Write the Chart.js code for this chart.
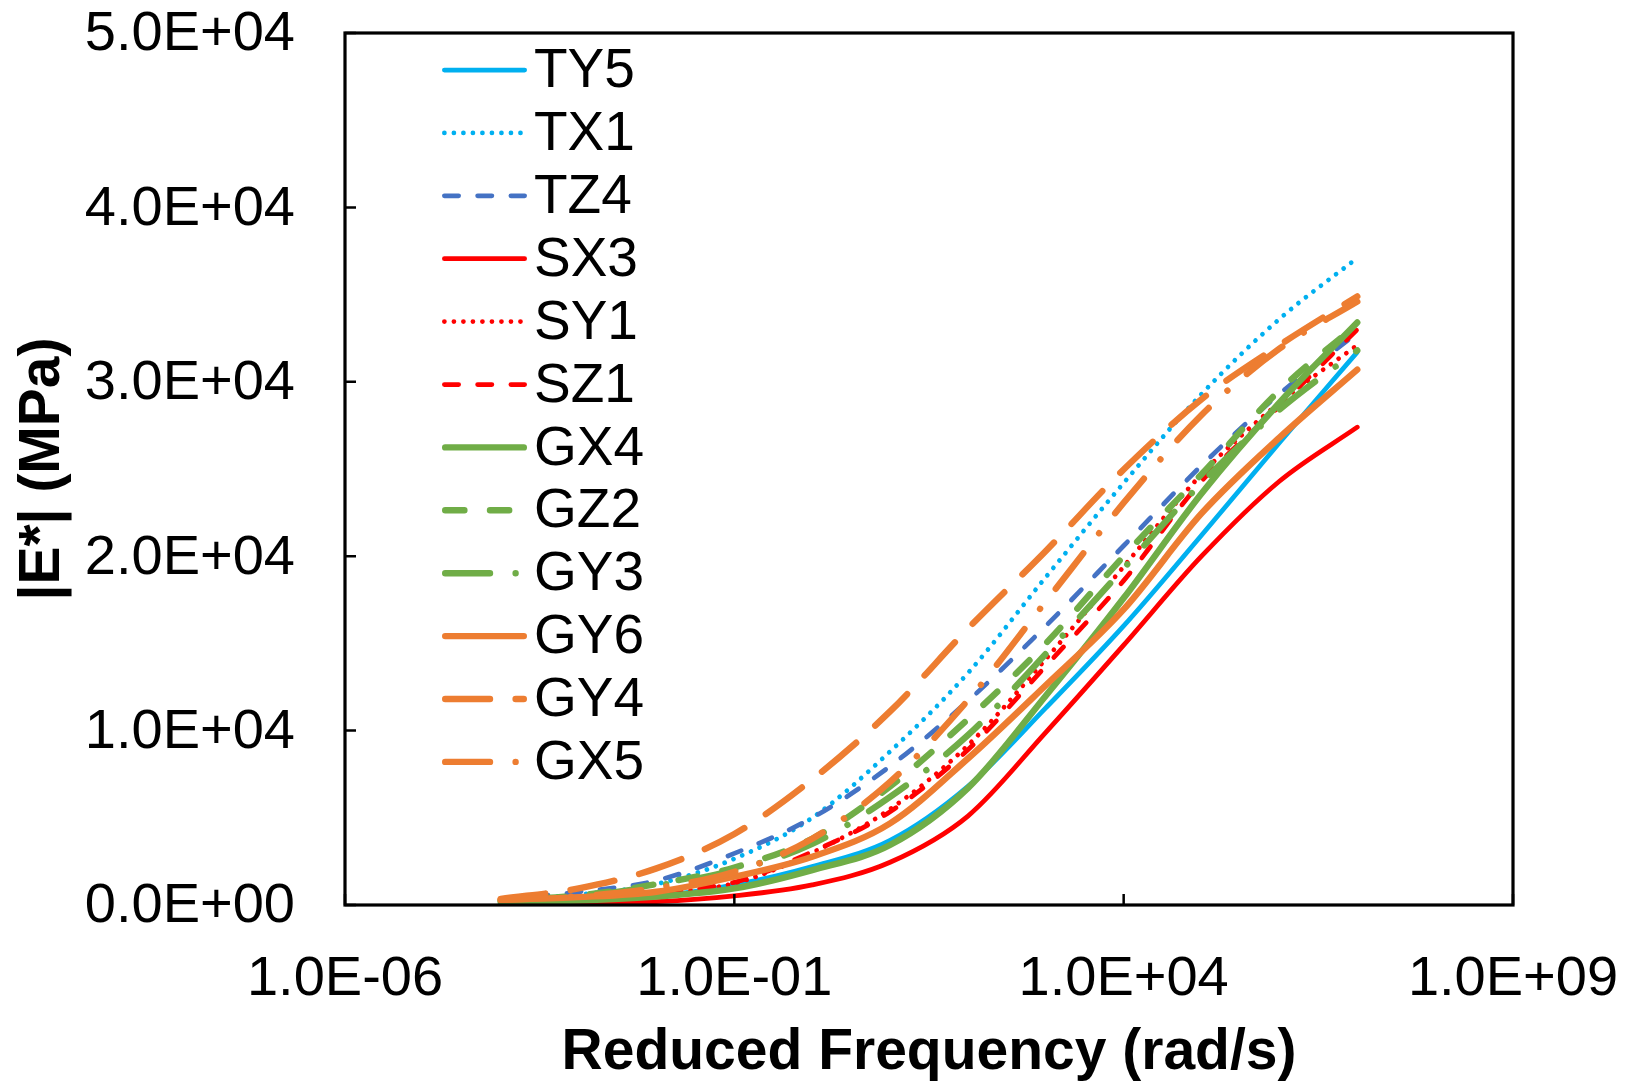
<!DOCTYPE html>
<html>
<head>
<meta charset="utf-8">
<script src="https://cdn.jsdelivr.net/npm/chart.js@4/dist/chart.umd.min.js"></script>
<style>
  html, body { margin: 0; padding: 0; background: #ffffff; }
  #wrap { width: 1632px; height: 1088px; position: relative; }
  canvas { display: block; }
</style>
</head>
<body>
<div id="wrap"><canvas id="c" width="1632" height="1088"></canvas></div>
<script>
// ---- data ----
const freq = [1e-4, 1e-3, 1e-2, 1e-1, 1e0, 1e1, 1e2, 1e3, 1e4, 1e5, 1e6, 1e7];

const TY5 = [150, 280, 500, 1150, 2200, 3700, 6800, 11300, 16000, 21200, 26500, 31700];
const TX1 = [300, 600, 1200, 2650, 5000, 8800, 13300, 18800, 24200, 29300, 33600, 37100];
const TZ4 = [300, 750, 1400, 2960, 5000, 7960, 11700, 16000, 20600, 25200, 29300, 32800];
const SX3 = [50, 100, 190, 520, 1150, 2450, 5100, 9900, 14900, 20000, 24300, 27400];
const SY1 = [150, 350, 680, 1240, 3000, 5500, 9160, 14100, 19400, 24700, 28800, 32100];
const SZ1 = [200, 400, 750, 1300, 3050, 5350, 8900, 13700, 18600, 24300, 28600, 33000];
const GX4 = [150, 250, 480, 950, 2000, 3440, 6700, 12000, 17600, 23600, 28800, 33400];
const GZ2 = [250, 550, 1200, 2150, 3800, 6800, 10650, 15000, 20000, 24700, 29500, 33300];
const GY3 = [250, 500, 1100, 2000, 3500, 6200, 9740, 14400, 19300, 24200, 28400, 31800];
const GY6 = [300, 450, 760, 1620, 2770, 4680, 8400, 12600, 16950, 22450, 26800, 30700];
const GY4 = [350, 950, 2100, 4070, 7200, 11100, 15850, 20300, 24970, 29000, 32100, 34900];
const GX5 = [300, 500, 970, 1900, 3800, 7060, 11740, 17400, 23060, 28100, 31900, 34600];

const seriesNames = ['TY5', 'TX1', 'TZ4', 'SX3', 'SY1', 'SZ1', 'GX4', 'GZ2', 'GY3', 'GY6', 'GY4', 'GX5'];
const seriesValues = [TY5, TX1, TZ4, SX3, SY1, SZ1, GX4, GZ2, GY3, GY6, GY4, GX5];

const xTickValues = [1e-6, 1e-1, 1e4, 1e9];
const yTickValues = [0, 10000, 20000, 30000, 40000, 50000];

const xTitle = 'Reduced Frequency (rad/s)';
const yTitle = '|E*| (MPa)';

// ---- styles ----
const CYAN = '#00B0F0', BLUE = '#4472C4', RED = '#FF0000', GREEN = '#70AD47', ORANGE = '#ED7D31';
const WT = 4.75, WG = 6.4;
const solid = [];
const dot = (w) => [0.01, 2 * w];
const dash = (w) => [3 * w, 4 * w];           // visual 4w dash, 3w gap (round caps)
const longDash = (w) => [7 * w, 4 * w];       // visual 8w dash, 3w gap
const longDashDot = (w) => [7 * w, 4 * w, 0.01, 4 * w];

const styles = [
  {c: CYAN,   w: WT, d: solid},
  {c: CYAN,   w: WT, d: dot(WT)},
  {c: BLUE,   w: WT, d: dash(WT)},
  {c: RED,    w: WT, d: solid},
  {c: RED,    w: WT, d: dot(WT)},
  {c: RED,    w: WT, d: dash(WT)},
  {c: GREEN,  w: WG, d: solid},
  {c: GREEN,  w: WG, d: dash(WG)},
  {c: GREEN,  w: WG, d: longDashDot(WG)},
  {c: ORANGE, w: WG, d: solid},
  {c: ORANGE, w: WG, d: longDash(WG)},
  {c: ORANGE, w: WG, d: longDashDot(WG)},
];

const FONT = "'Liberation Sans', Arial, Helvetica, sans-serif";

function fmtE(v) {
  if (v === 0) return '0.0E+00';
  const e = Math.round(Math.floor(Math.log10(Math.abs(v)) + 1e-9));
  const m = v / Math.pow(10, e);
  return m.toFixed(1) + 'E' + (e < 0 ? '-' : '+') + String(Math.abs(e)).padStart(2, '0');
}

const N = seriesNames.length;
const datasets = seriesNames.map((name, i) => ({
  label: name,
  data: freq.map((f, k) => ({x: f, y: seriesValues[i][k]})),
  borderColor: styles[i].c,
  backgroundColor: styles[i].c,
  borderWidth: styles[i].w,
  borderDash: styles[i].d,
  borderCapStyle: 'round',
  borderJoinStyle: 'round',
  pointRadius: 0,
  pointHoverRadius: 0,
  fill: false,
  cubicInterpolationMode: 'monotone',
  order: N - 1 - i,
}));

// frame + inward ticks
const framePlugin = {
  id: 'frame',
  afterDraw(chart) {
    const {ctx, chartArea: a, scales} = chart;
    ctx.save();
    ctx.strokeStyle = '#000';
    ctx.lineWidth = 2.5;
    ctx.setLineDash([]);
    ctx.beginPath();
    xTickValues.forEach(v => {
      const px = scales.x.getPixelForValue(v);
      ctx.moveTo(px, a.bottom);
      ctx.lineTo(px, a.bottom - 11);
    });
    yTickValues.forEach(v => {
      const py = scales.y.getPixelForValue(v);
      ctx.moveTo(a.left, py);
      ctx.lineTo(a.left + 11, py);
    });
    ctx.stroke();
    ctx.lineWidth = 3.2;
    ctx.strokeRect(a.left, a.top, a.right - a.left, a.bottom - a.top);
    ctx.restore();
  }
};

// legend inside the plot area
const legendPlugin = {
  id: 'insideLegend',
  afterDatasetsDraw(chart) {
    const {ctx, chartArea: a} = chart;
    const x0 = a.left + 97, x1 = a.left + 182, textX = a.left + 189;
    const y0 = a.top + 37, step = 62.9;
    chart.data.datasets.forEach((ds, i) => {
      const y = y0 + i * step;
      ctx.save();
      ctx.strokeStyle = ds.borderColor;
      ctx.lineWidth = ds.borderWidth;
      ctx.lineCap = 'round';
      ctx.setLineDash(ds.borderDash || []);
      ctx.beginPath();
      ctx.moveTo(x0 + ds.borderWidth / 2, y);
      ctx.lineTo(x1 - ds.borderWidth / 2, y);
      ctx.stroke();
      ctx.setLineDash([]);
      ctx.fillStyle = '#000';
      ctx.font = '55px ' + FONT;
      ctx.textBaseline = 'middle';
      ctx.textAlign = 'left';
      ctx.fillText(ds.label, textX, y + 2);
      ctx.restore();
    });
  }
};

new Chart(document.getElementById('c'), {
  type: 'line',
  data: {datasets},
  plugins: [legendPlugin, framePlugin],
  options: {
    responsive: false,
    animation: false,
    devicePixelRatio: 1,
    layout: {padding: {top: 33, right: 119, left: 0, bottom: 0}},
    plugins: {legend: {display: false}, tooltip: {enabled: false}, title: {display: false}},
    scales: {
      x: {
        type: 'logarithmic',
        min: 1e-6,
        max: 1e9,
        grid: {display: false, drawTicks: false},
        border: {display: false},
        afterBuildTicks: (s) => { s.ticks = xTickValues.map(v => ({value: v})); },
        afterFit: (s) => { s.height = 183; s.paddingLeft = 0; s.paddingRight = 0; },
        ticks: {
          autoSkip: false, maxRotation: 0, minRotation: 0, padding: 41,
          color: '#000', font: {family: FONT, size: 56},
          callback: (v) => fmtE(v)
        },
        title: {display: true, text: xTitle, color: '#000',
          font: {family: FONT, size: 57, weight: 'bold'}, padding: {top: 0, bottom: 1}}
      },
      y: {
        type: 'linear',
        min: 0,
        max: 50000,
        grid: {display: false, drawTicks: false},
        border: {display: false},
        afterBuildTicks: (s) => { s.ticks = yTickValues.map(v => ({value: v})); },
        afterFit: (s) => { s.width = 345; s.paddingTop = 0; s.paddingBottom = 0; },
        ticks: {
          padding: 50, labelOffset: 2, color: '#000', font: {family: FONT, size: 56},
          callback: (v) => fmtE(v)
        },
        title: {display: true, text: yTitle, color: '#000',
          font: {family: FONT, size: 57, weight: 'bold'}, padding: {top: 9, bottom: 0}}
      }
    }
  }
});
</script>
</body>
</html>
